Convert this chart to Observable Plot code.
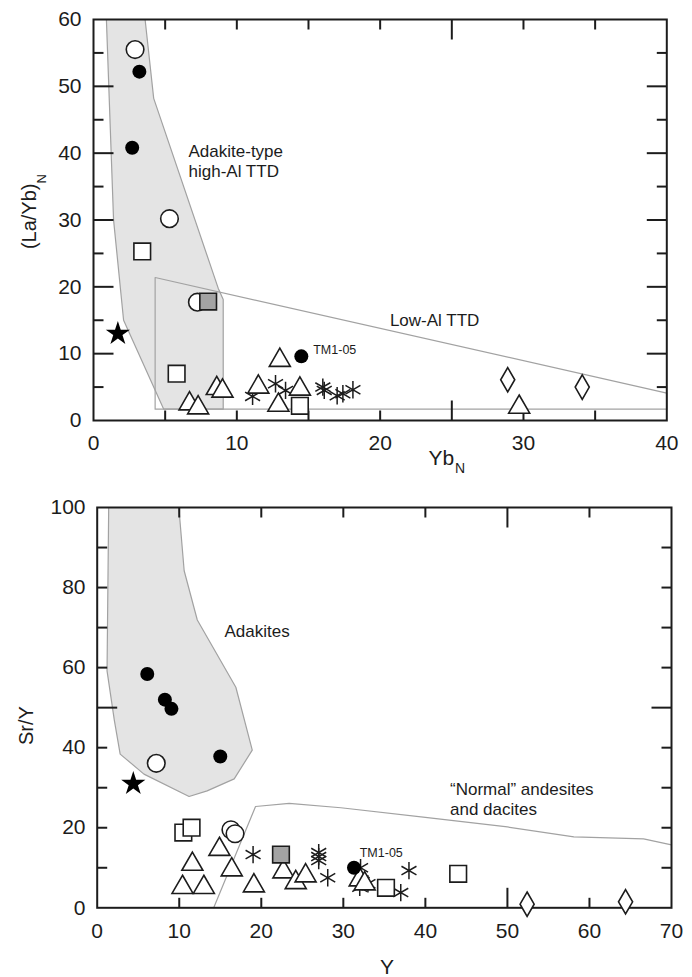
<!DOCTYPE html>
<html><head><meta charset="utf-8">
<script src="https://cdn.jsdelivr.net/npm/d3@7"></script>
<script src="https://cdn.jsdelivr.net/npm/@observablehq/plot@0.6"></script>
<style>body{margin:0;background:#fff;} svg{display:block;}</style>
</head><body><div id="chart"></div>
<script>
// ---------- Top panel: (La/Yb)N vs YbN ----------
const topXTicksLabel = [0, 10, 20, 30, 40];
const topYTicksLabel = [0, 10, 20, 30, 40, 50, 60];
const topXTicksShort = [5, 10, 15, 20, 30, 35];
const topXTicksLong = [25];
const topYTicksShort = [5, 15, 25, 35, 45, 55];
const topYTicksLong = [10, 20, 30, 40, 50];

const topAdakiteField = [[0.9,60],[3.6,60],[4.2,48.2],[8.7,19.8],[9.05,18.1],[9.05,1.7],[4.9,1.7],[2.1,15],[1.4,30]];
const topLowAlField = [[4.3,21.4],[40,4.1],[40,1.7],[4.3,1.7]];

const topOpenCircles = [[2.9,55.5],[5.3,30.2],[7.25,17.7]];
const topFilledCircles = [[3.2,52.2],[2.7,40.8],[14.5,9.6]];
const topOpenSquares = [[3.4,25.3],[5.8,7.0],[14.4,2.2]];
const topGraySquares = [[8.0,17.8]];
const topStars = [[1.7,13.0]];
const topTriangles = [[6.7,2.5],[7.3,1.9],[8.6,4.8],[9.0,4.4],[11.5,5.0],[13.0,9.0],[12.9,2.3],[14.4,4.7],[29.7,2.0]];
const topAsterisks = [[11.1,3.6],[12.7,5.5],[13.4,4.5],[16.0,5.0],[16.1,4.5],[17.0,3.7],[17.4,4.0],[18.1,4.6]];
const topDiamonds = [[28.9,6.1],[34.1,5.0]];

const topLabels = [
  {x: 6.63, y: 41.5, text: "Adakite-type\nhigh-Al TTD", size: 17, anchor: "top"},
  {x: 20.68, y: 14.07, text: "Low-Al TTD", size: 17, anchor: "bottom"},
  {x: 15.33, y: 9.88, text: "TM1-05", size: 12.5, anchor: "bottom"}
];

// ---------- Bottom panel: Sr/Y vs Y ----------
const botXTicksLabel = [0, 10, 20, 30, 40, 50, 60, 70];
const botYTicksLabel = [0, 20, 40, 60, 80, 100];
const botXTicksShort = [10, 20, 30, 40, 60];
const botXTicksLong = [50];
const botYTicksShort = [10, 20, 30, 40, 60, 70, 80, 90];
const botYTicksLong = [50];

const botAdakiteField = [[1.4,100],[9.95,100],[10.6,84.2],[12.2,71.9],[16.9,55.1],[18.9,39.4],[16.7,32.2],[13.4,29.2],[11.2,27.8],[5.7,33.4],[2.8,38.4],[2.1,46.7],[1.2,59.2]];
const botNormalLine = [[14.2,0],[19.3,25.3],[23.4,26.1],[29.7,25],[40,22.6],[50,20.2],[58.1,17.7],[66.6,17.2],[70,15.7]];

const botOpenCircles = [[7.2,36.1],[16.3,19.5],[16.8,18.5]];
const botFilledCircles = [[6.1,58.4],[8.25,52],[9.05,49.7],[15.0,37.8],[31.3,10.0]];
const botOpenSquares = [[10.5,18.8],[11.5,20.0],[35.2,5.0],[44.0,8.5]];
const botGraySquares = [[22.4,13.3]];
const botStars = [[4.4,31.0]];
const botTriangles = [[10.4,5.1],[13.0,5.1],[11.6,10.9],[14.9,14.6],[16.4,9.5],[19.1,5.5],[22.7,9.0],[24.2,6.3],[25.4,8.0],[32.0,7.0],[32.6,6.0]];
const botAsterisks = [[19.0,13.3],[27.0,13.8],[27.0,12.8],[27.0,11.8],[28.1,7.5],[32.1,10.0],[32.0,5.1],[33.0,6.0],[32.3,6.5],[38.0,9.3],[37.0,3.8]];
const botDiamonds = [[52.4,0.9],[64.4,1.5]];

const botLabels = [
  {x: 15.52, y: 67.6, text: "Adakites", size: 17, anchor: "bottom"},
  {x: 43.0, y: 31.6, text: "\u201CNormal\u201D andesites\nand dacites", size: 17, anchor: "top"},
  {x: 32.0, y: 12.65, text: "TM1-05", size: 12.5, anchor: "bottom"}
];

// ---------- helpers ----------
const FONT = "'Liberation Sans', Arial, Helvetica, sans-serif";
const INK = "#1c1c1c";
const rows = a => a.map(([x, y]) => ({x, y}));

// inward ticks on all four sides, as links whose length is a fixed number of pixels
function allTicks(xs, xl, ys, yl, xDom, yDom, W, H) {
  const kx = (xDom[1] - xDom[0]) / W, ky = (yDom[1] - yDom[0]) / H;
  const segs = [];
  for (const [vals, len] of [[xs, 10], [xl, 20]]) for (const v of vals) {
    segs.push({x1: v, x2: v, y1: yDom[0], y2: yDom[0] + len * ky});
    segs.push({x1: v, x2: v, y1: yDom[1], y2: yDom[1] - len * ky});
  }
  for (const [vals, len] of [[ys, 10], [yl, 20]]) for (const v of vals) {
    segs.push({y1: v, y2: v, x1: xDom[0], x2: xDom[0] + len * kx});
    segs.push({y1: v, y2: v, x1: xDom[1], x2: xDom[1] - len * kx});
  }
  return Plot.link(segs, {x1: "x1", y1: "y1", x2: "x2", y2: "y2", stroke: INK, strokeWidth: 2});
}

function symbolMarks(d) {
  const S = {stroke: INK, strokeWidth: 1.6};
  return [
    Plot.dot(rows(d.asterisks), {x: "x", y: "y", symbol: "asterisk", r: 8.2, fill: "none", ...S, strokeWidth: 1.5}),
    Plot.dot(rows(d.triangles), {x: "x", y: "y", symbol: "triangle", r: 7.8, fill: "white", ...S}),
    Plot.dot(rows(d.diamonds), {x: "x", y: "y", symbol: "diamond", r: 7.4, fill: "white", ...S}),
    Plot.dot(rows(d.openSquares), {x: "x", y: "y", symbol: "square", r: 9.4, fill: "white", ...S}),
    Plot.dot(rows(d.openCircles), {x: "x", y: "y", symbol: "circle", r: 8.8, fill: "white", ...S}),
    Plot.dot(rows(d.graySquares), {x: "x", y: "y", symbol: "square", r: 9.4, fill: "#a3a3a3", ...S}),
    Plot.dot(rows(d.filledCircles), {x: "x", y: "y", symbol: "circle", r: 7, fill: "#000", stroke: "none"}),
    Plot.dot(rows(d.stars), {x: "x", y: "y", symbol: "star", r: 7.6, fill: "#000", stroke: "none"})
  ];
}

function labelMarks(labels) {
  return labels.map(l => Plot.text([l], {x: "x", y: "y", text: "text", fontSize: l.size, textAnchor: "start",
    lineAnchor: l.anchor, lineHeight: 1.15, fill: INK, fontFamily: FONT}));
}

// ---------- top plot ----------
const T = {w: 692, h: 480, ml: 93, mr: 25.7, mt: 19, mb: 60};
const topXDom = [0, 40], topYDom = [0, 60];
const topPlot = Plot.plot({
  width: T.w, height: T.h,
  marginLeft: T.ml, marginRight: T.mr, marginTop: T.mt, marginBottom: T.mb,
  x: {domain: topXDom}, y: {domain: topYDom},
  style: {fontFamily: FONT, color: INK, background: "white", overflow: "visible"},
  marks: [
    Plot.line(topAdakiteField, {curve: "linear-closed", fill: "#e4e4e4", stroke: "#a2a2a2", strokeWidth: 1.2}),
    Plot.line(topLowAlField, {curve: "linear-closed", fill: "none", stroke: "#a2a2a2", strokeWidth: 1.2}),
    Plot.frame({stroke: INK, strokeWidth: 2}),
    allTicks(topXTicksShort, topXTicksLong, topYTicksShort, topYTicksLong, topXDom, topYDom,
      T.w - T.ml - T.mr, T.h - T.mt - T.mb),
    Plot.axisX(topXTicksLabel, {anchor: "bottom", tickSize: 0, tickPadding: 15, fontSize: 21, label: null, fill: INK}),
    Plot.axisY(topYTicksLabel, {anchor: "left", tickSize: 0, tickPadding: 12, fontSize: 21, label: null, fill: INK}),
    ...symbolMarks({asterisks: topAsterisks, triangles: topTriangles, diamonds: topDiamonds, openSquares: topOpenSquares,
      openCircles: topOpenCircles, graySquares: topGraySquares, filledCircles: topFilledCircles, stars: topStars}),
    ...labelMarks(topLabels),
    Plot.text(["Yb"], {frameAnchor: "bottom", dx: 61.3, dy: 44.5, textAnchor: "middle", lineAnchor: "bottom", fontSize: 21, fill: INK}),
    Plot.text(["N"], {frameAnchor: "bottom", dx: 79.9, dy: 52.5, textAnchor: "middle", lineAnchor: "bottom", fontSize: 14, fill: INK}),
    Plot.text(["(La/Yb)"], {frameAnchor: "left", rotate: -90, dx: -58, dy: -3.7, textAnchor: "middle", lineAnchor: "bottom", fontSize: 20, fill: INK}),
    Plot.text(["N"], {frameAnchor: "left", rotate: -90, dx: -48, dy: -41.2, textAnchor: "middle", lineAnchor: "bottom", fontSize: 13, fill: INK})
  ]
});

// ---------- bottom plot ----------
const B = {w: 692, h: 497, ml: 96.7, mr: 21, mt: 27, mb: 69.7};
const botXDom = [0, 70], botYDom = [0, 100];
const bottomPlot = Plot.plot({
  width: B.w, height: B.h,
  marginLeft: B.ml, marginRight: B.mr, marginTop: B.mt, marginBottom: B.mb,
  x: {domain: botXDom}, y: {domain: botYDom},
  style: {fontFamily: FONT, color: INK, background: "white", overflow: "visible"},
  marks: [
    Plot.line(botAdakiteField, {curve: "linear-closed", fill: "#e4e4e4", stroke: "#a2a2a2", strokeWidth: 1.2}),
    Plot.line(botNormalLine, {fill: "none", stroke: "#a2a2a2", strokeWidth: 1.2}),
    Plot.frame({stroke: INK, strokeWidth: 2}),
    allTicks(botXTicksShort, botXTicksLong, botYTicksShort, botYTicksLong, botXDom, botYDom,
      B.w - B.ml - B.mr, B.h - B.mt - B.mb),
    Plot.axisX(botXTicksLabel, {anchor: "bottom", tickSize: 0, tickPadding: 15.4, fontSize: 21, label: null, fill: INK}),
    Plot.axisY(botYTicksLabel, {anchor: "left", tickSize: 0, tickPadding: 11.7, fontSize: 21, label: null, fill: INK}),
    ...symbolMarks({asterisks: botAsterisks, triangles: botTriangles, diamonds: botDiamonds, openSquares: botOpenSquares,
      openCircles: botOpenCircles, graySquares: botGraySquares, filledCircles: botFilledCircles, stars: botStars}),
    ...labelMarks(botLabels),
    Plot.text(["Y"], {frameAnchor: "bottom", dx: 2.6, dy: 66.5, textAnchor: "middle", lineAnchor: "bottom", fontSize: 21, fill: INK}),
    Plot.text(["Sr/Y"], {frameAnchor: "left", rotate: -90, dx: -64.7, dy: 17.9, textAnchor: "middle", lineAnchor: "bottom", fontSize: 20, fill: INK})
  ]
});

const host = document.getElementById("chart");
host.appendChild(topPlot);
host.appendChild(bottomPlot);
</script>
</body></html>
